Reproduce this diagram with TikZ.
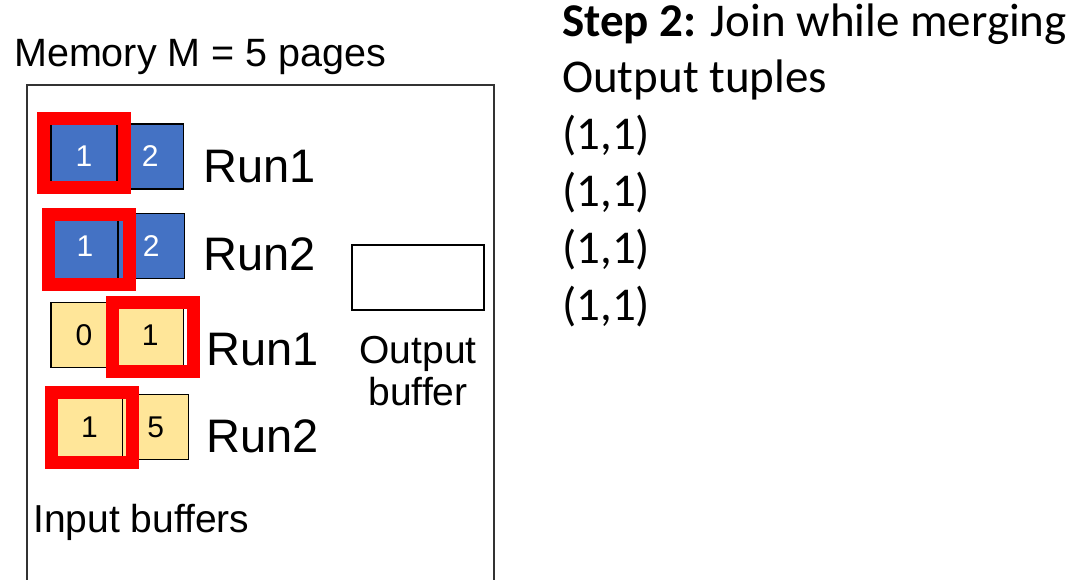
\documentclass[tikz,border=0pt]{standalone}
\usepackage{fontspec}
\setmainfont{Liberation Sans}
\newfontfamily\calibri{Carlito}
\usetikzlibrary{positioning}
\definecolor{pageblue}{HTML}{4472C4}
\definecolor{pageyellow}{HTML}{FFE699}
\tikzset{
  page/.style={draw=black,line width=1.3pt,minimum width=66pt,minimum height=65pt,inner sep=0pt,
    font=\fontsize{30}{30}\selectfont},
  bluepage/.style={page,fill=pageblue,text=white},
  yellowpage/.style={page,fill=pageyellow},
  cursor/.style={draw=red,line width=13pt,minimum width=81pt,minimum height=69pt,inner sep=0pt},
  runlabel/.style={anchor=base west,inner sep=0pt,font=\fontsize{47}{47}\selectfont},
  tuple/.style={anchor=base west,inner sep=0pt,font=\calibri\fontsize{47}{56}\selectfont}
}
\begin{document}
\begin{tikzpicture}[x=1pt,y=-1pt]
  \useasboundingbox (0,0) rectangle (1076,580);
  % memory with its input and output buffers
  \node (mem) [anchor=base west,inner sep=0pt,font=\fontsize{39.5}{40}\selectfont] at (14,67) {Memory M = 5 pages};
  \draw [line width=1.5pt,draw=black!80] (27,600) -- (27,85) -- (494,85) -- (494,600);

  % first relation: two runs in blue
  \node (r1a) [bluepage] at (84,156.5) {1};
  \node (r1b) [bluepage,right=-1pt of r1a] {2};
  \node (r2a) [bluepage] at (85,246) {1};
  \node (r2b) [bluepage,right=-1pt of r2a] {2};
  % second relation: two runs in yellow
  \node (s1a) [yellowpage] at (84,335) {0};
  \node (s1b) [yellowpage,right=-1pt of s1a] {1};
  \node (s2a) [yellowpage] at (89.5,427) {1};
  \node (s2b) [yellowpage,right=-1pt of s2a] {5};

  % current pages being merged
  \node (c1) [cursor] at (84,153) {};
  \node (c2) [cursor,minimum height=70pt] at (89,249.5) {};
  \node (c3) [cursor] at (153,337) {};
  \node (c4) [cursor,minimum height=70pt] at (92,427.5) {};

  \node (l1) [runlabel] at (203,183) {Run1};
  \node (l2) [runlabel] at (203,270) {Run2};
  \node (l3) [runlabel] at (206,365) {Run1};
  \node (l4) [runlabel] at (206,452) {Run2};

  \node (out) [draw=black,line width=1.3pt,minimum width=132pt,minimum height=65pt] at (418,277.5) {};
  \node (outl) [below=25pt of out,align=center,inner sep=0pt,font=\fontsize{39}{42}\selectfont] {Output\\buffer};
  \node (inl) [anchor=base west,inner sep=0pt,font=\fontsize{39}{39}\selectfont] at (33,532) {Input buffers};

  % merge step and the tuples it produced
  \node (step) [tuple] at (562,37) {\textbf{Step 2:} Join while merging};
  \node (ot) [tuple] at (562,93) {Output tuples};
  \foreach \y [count=\i] in {150,206.5,263,320}
    \node (t\i) [tuple] at (562,\y) {(1,1)};
\end{tikzpicture}
\end{document}
